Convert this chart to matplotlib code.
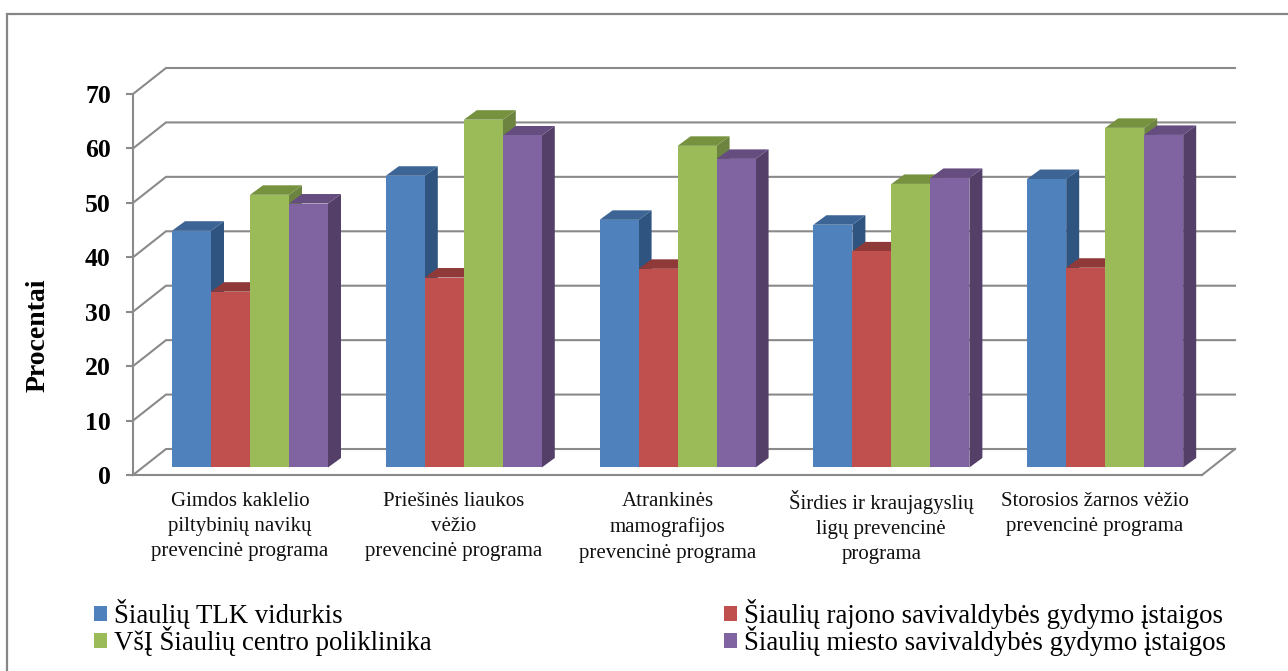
import matplotlib
matplotlib.use('Agg')
import matplotlib.pyplot as plt
from matplotlib.lines import Line2D
from matplotlib.patches import Patch
from matplotlib.transforms import ScaledTranslation

plt.rcParams['font.family'] = ['Liberation Serif', 'DejaVu Serif']

categories = ['Gimdos kaklelio\npiltybinių navikų\nprevencinė programa',
              'Priešinės liaukos\nvėžio\nprevencinė programa',
              'Atrankinės\nmamografijos\nprevencinė programa',
              'Širdies ir kraujagyslių\nligų prevencinė\nprograma',
              'Storosios žarnos vėžio\nprevencinė programa']
tlk = [43.5, 53.6, 45.5, 44.6, 53.0]
rajono = [32.3, 34.9, 36.5, 39.7, 36.7]
centro = [50.1, 63.9, 59.1, 52.1, 62.4]
miesto = [48.5, 61.0, 56.7, 53.2, 61.1]
yticks = [0, 10, 20, 30, 40, 50, 60, 70]

series = [('Šiaulių TLK vidurkis', tlk, '#4F81BD', '#2F5480', '#3C6595'),
          ('Šiaulių rajono savivaldybės gydymo įstaigos', rajono, '#C0504D', '#8E3A38', '#8F3A38'),
          ('VšĮ Šiaulių centro poliklinika', centro, '#9BBB59', '#6C8440', '#76923F'),
          ('Šiaulių miesto savivaldybės gydymo įstaigos', miesto, '#8064A2', '#533F68', '#654D80')]

W, H = 1288, 671
fig = plt.figure(figsize=(W / 100, H / 100), dpi=100)
ax = fig.add_axes([133 / W, (H - 475) / H, 1069 / W, 381 / H])
ax.set_xlim(0, 5)
ax.set_ylim(0, 70)

GRID = '#8A8A8A'
wall_x, wall_y = 33 / 213.8, 26 / 5.443   # back wall offset
depth_x, depth_y = 13 / 213.8, 9.5 / 5.443   # bar depth
floor = 1.38
bar_w = 0.1824

# walls
for v in yticks:
    ax.plot([0, wall_x, 5 + wall_x], [v, v + wall_y, v + wall_y], color=GRID, lw=1.5,
            clip_on=False, zorder=1, solid_joinstyle='miter')
ax.plot([5, 5 + wall_x], [0, wall_y], color=GRID, lw=1.5, clip_on=False, zorder=1)

# bars with fake 3d faces
for g in range(5):
    for s, (name, vals, col, side, top) in enumerate(series):
        x0 = g + bar_w * (s + 1)
        v = vals[g]
        z = 3 + s * 0.1
        ax.fill([x0 + bar_w, x0 + bar_w + depth_x, x0 + bar_w + depth_x, x0 + bar_w],
                [floor, floor + depth_y, floor + v + depth_y, floor + v],
                color=side, lw=0, zorder=z, clip_on=False)
        ax.fill([x0, x0 + depth_x, x0 + bar_w + depth_x, x0 + bar_w],
                [floor + v, floor + v + depth_y, floor + v + depth_y, floor + v],
                color=top, lw=0, zorder=z, clip_on=False)
        ax.bar(x0, v, bottom=floor, width=bar_w, align='edge', color=col, lw=0, zorder=z + 0.05)

for side in ['top', 'right']:
    ax.spines[side].set_visible(False)
for side in ['left', 'bottom']:
    ax.spines[side].set_color(GRID)
    ax.spines[side].set_linewidth(1.5)
    ax.spines[side].set_zorder(2)

ax.set_yticks(yticks)
ax.set_yticklabels([str(v) for v in yticks], fontsize=18.5, fontweight='bold')
ax.tick_params(axis='y', length=5, width=1.5, color=GRID, pad=11)
ax.set_xticks([g + 0.5 for g in range(5)])
ax.set_xticklabels(categories, fontsize=15, linespacing=1.45, color='#111111')
ax.tick_params(axis='x', length=0, pad=12)

# the S with caron makes this label sit lower than the others
lbl = ax.get_xticklabels()[3]
lbl.set_transform(lbl.get_transform() + ScaledTranslation(0, 2 / 100, fig.dpi_scale_trans))

fig.text(38 / W, 1 - 335 / H, 'Procentai', rotation=90, fontsize=20, fontweight='bold',
         ha='center', va='center')

handles = [Patch(facecolor=series[i][2], label=series[i][0]) for i in [0, 2, 1, 3]]
fig.legend(handles=handles, ncol=2, frameon=False, fontsize=19.3, loc='upper left',
           bbox_to_anchor=(94 / W, 1 - 599 / H), bbox_transform=fig.transFigure,
           borderpad=0, borderaxespad=0, handlelength=0.5, handleheight=0.5, handletextpad=0.25,
           labelspacing=-0.12, columnspacing=10.9)

# outer frame, cut off on the right and bottom
fig.add_artist(Line2D([7 / W, 7 / W, 1], [0, 1 - 14 / H, 1 - 14 / H], color='#868686', lw=1.6,
                      solid_joinstyle='miter'))

fig.savefig('out.png', dpi=100)
